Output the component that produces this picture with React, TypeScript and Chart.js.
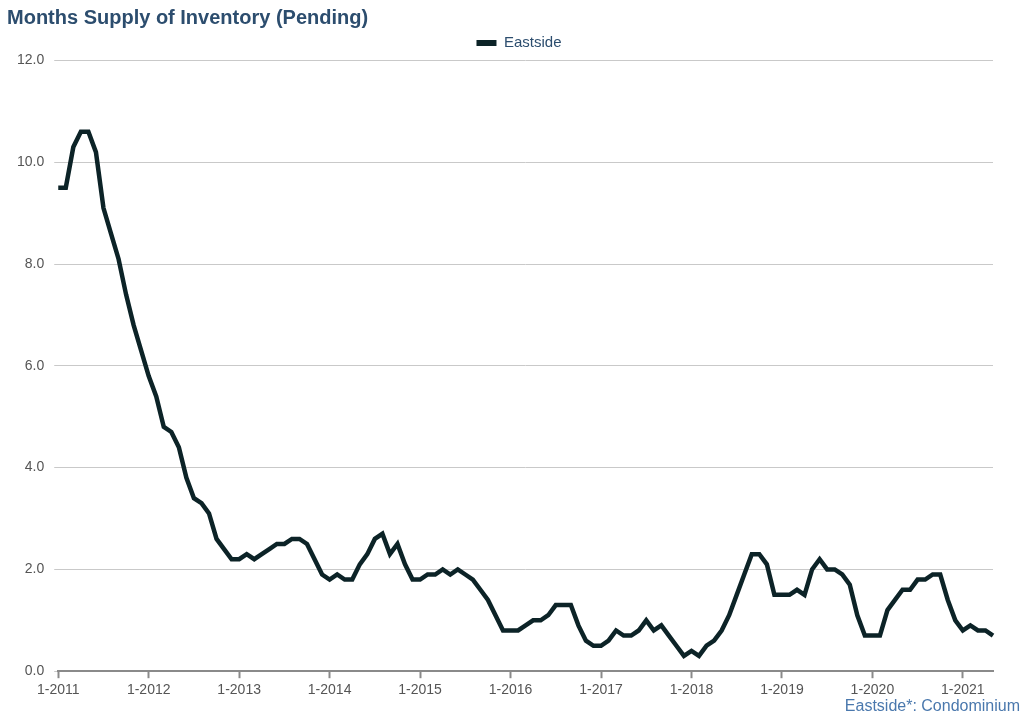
import React, { useEffect, useRef } from "react";
import { Chart, registerables } from "chart.js";

Chart.register(...registerables);

const TITLE = "Months Supply of Inventory (Pending)";
const SERIES_NAME = "Eastside";
const FOOTER = "Eastside*: Condominium";

const startYear = 2011;
const v2011 = [9.5, 9.5, 10.3, 10.6, 10.6, 10.2, 9.1, 8.6, 8.1, 7.4, 6.8, 6.3];
const v2012 = [5.8, 5.4, 4.8, 4.7, 4.4, 3.8, 3.4, 3.3, 3.1, 2.6, 2.4, 2.2];
const v2013 = [2.2, 2.3, 2.2, 2.3, 2.4, 2.5, 2.5, 2.6, 2.6, 2.5, 2.2, 1.9];
const v2014 = [1.8, 1.9, 1.8, 1.8, 2.1, 2.3, 2.6, 2.7, 2.3, 2.5, 2.1, 1.8];
const v2015 = [1.8, 1.9, 1.9, 2.0, 1.9, 2.0, 1.9, 1.8, 1.6, 1.4, 1.1, 0.8];
const v2016 = [0.8, 0.8, 0.9, 1.0, 1.0, 1.1, 1.3, 1.3, 1.3, 0.9, 0.6, 0.5];
const v2017 = [0.5, 0.6, 0.8, 0.7, 0.7, 0.8, 1.0, 0.8, 0.9, 0.7, 0.5, 0.3];
const v2018 = [0.4, 0.3, 0.5, 0.6, 0.8, 1.1, 1.5, 1.9, 2.3, 2.3, 2.1, 1.5];
const v2019 = [1.5, 1.5, 1.6, 1.5, 2.0, 2.2, 2.0, 2.0, 1.9, 1.7, 1.1, 0.7];
const v2020 = [0.7, 0.7, 1.2, 1.4, 1.6, 1.6, 1.8, 1.8, 1.9, 1.9, 1.4, 1.0];
const v2021 = [0.8, 0.9, 0.8, 0.8, 0.7];

const values = [
  ...v2011, ...v2012, ...v2013, ...v2014, ...v2015, ...v2016,
  ...v2017, ...v2018, ...v2019, ...v2020, ...v2021,
];

const categories: string[] = values.map((_, i) => {
  const m = (i % 12) + 1;
  const y = startYear + Math.floor(i / 12);
  return `${m}-${y}`;
});

const yTicks = [0, 2, 4, 6, 8, 10, 12];

const LINE = "#0c2327";
const NAVY = "#2c4d6e";
const FOOT = "#4a78ad";
const FONT = "'Liberation Sans', Arial, Helvetica, sans-serif";

const footerPlugin = {
  id: "footerText",
  afterLayout(chart: any) {
    if (chart.legend && !chart.legend.__shifted) {
      chart.legend.left += 19;
      chart.legend.right += 19;
      chart.legend.__shifted = true;
    }
  },
  afterDraw(chart: any) {
    const ctx = chart.ctx;
    ctx.save();
    ctx.font = `16px ${FONT}`;
    ctx.fillStyle = FOOT;
    ctx.textAlign = "right";
    ctx.textBaseline = "middle";
    ctx.fillText(FOOTER, chart.width - 4, 707);
    ctx.restore();
  },
};

export default function App() {
  const ref = useRef<HTMLCanvasElement | null>(null);
  useEffect(() => {
    if (!ref.current) return;
    const chart = new Chart(ref.current, {
      type: "line",
      data: {
        labels: categories,
        datasets: [
          {
            label: SERIES_NAME,
            data: values,
            borderColor: LINE,
            backgroundColor: LINE,
            borderWidth: 4.5,
            pointRadius: 0,
            tension: 0,
          },
        ],
      },
      plugins: [footerPlugin],
      options: {
        responsive: false,
        animation: false,
        devicePixelRatio: 1,
        layout: { padding: { left: 7, right: 31, top: 0, bottom: 18 } },
        plugins: {
          title: {
            display: true,
            text: TITLE,
            align: "start",
            color: NAVY,
            font: { family: FONT, size: 20, weight: "bold", lineHeight: 1 },
            padding: { top: 8, bottom: 0 },
          },
          legend: {
            display: true,
            position: "top",
            labels: {
              color: NAVY,
              font: { family: FONT, size: 15 },
              boxWidth: 20,
              boxHeight: 6,
              padding: 7.5,
              generateLabels: (ch: any) => {
                const items = Chart.defaults.plugins.legend.labels.generateLabels(ch);
                return items.map((it: any) => ({ ...it, lineWidth: 0, fillStyle: LINE }));
              },
            },
          },
          tooltip: { enabled: false },
        },
        scales: {
          x: {
            type: "category",
            offset: false,
            border: { display: true, color: "#8a8a8a", width: 2 },
            grid: {
              display: true,
              drawOnChartArea: false,
              drawTicks: true,
              tickLength: 7,
              tickWidth: 2,
              tickColor: "#8a8a8a",
            },
            afterBuildTicks: (scale: any) => {
              scale.ticks = scale.ticks.filter((t: any) => t.value % 12 === 0);
            },
            ticks: {
              autoSkip: false,
              maxRotation: 0,
              color: "#555",
              font: { family: FONT, size: 14 },
              padding: 4,
              callback: (v: any) => categories[v as number],
            },
          },
          y: {
            min: 0,
            max: 12,
            border: { display: false },
            grid: {
              color: "#c9c9c9",
              lineWidth: 1,
              drawTicks: true,
              tickLength: 4,
            },
            afterBuildTicks: (scale: any) => {
              scale.ticks = yTicks.map((v) => ({ value: v }));
            },
            ticks: {
              color: "#555",
              font: { family: FONT, size: 14 },
              padding: 10,
              callback: (v: any) => Number(v).toFixed(1),
            },
          },
        },
      },
    });
    return () => chart.destroy();
  }, []);
  return (
    <div style={{ position: "fixed", left: 0, top: 0, width: 1024, height: 721, background: "#fff" }}>
      <canvas ref={ref} width={1024} height={721} />
    </div>
  );
}
